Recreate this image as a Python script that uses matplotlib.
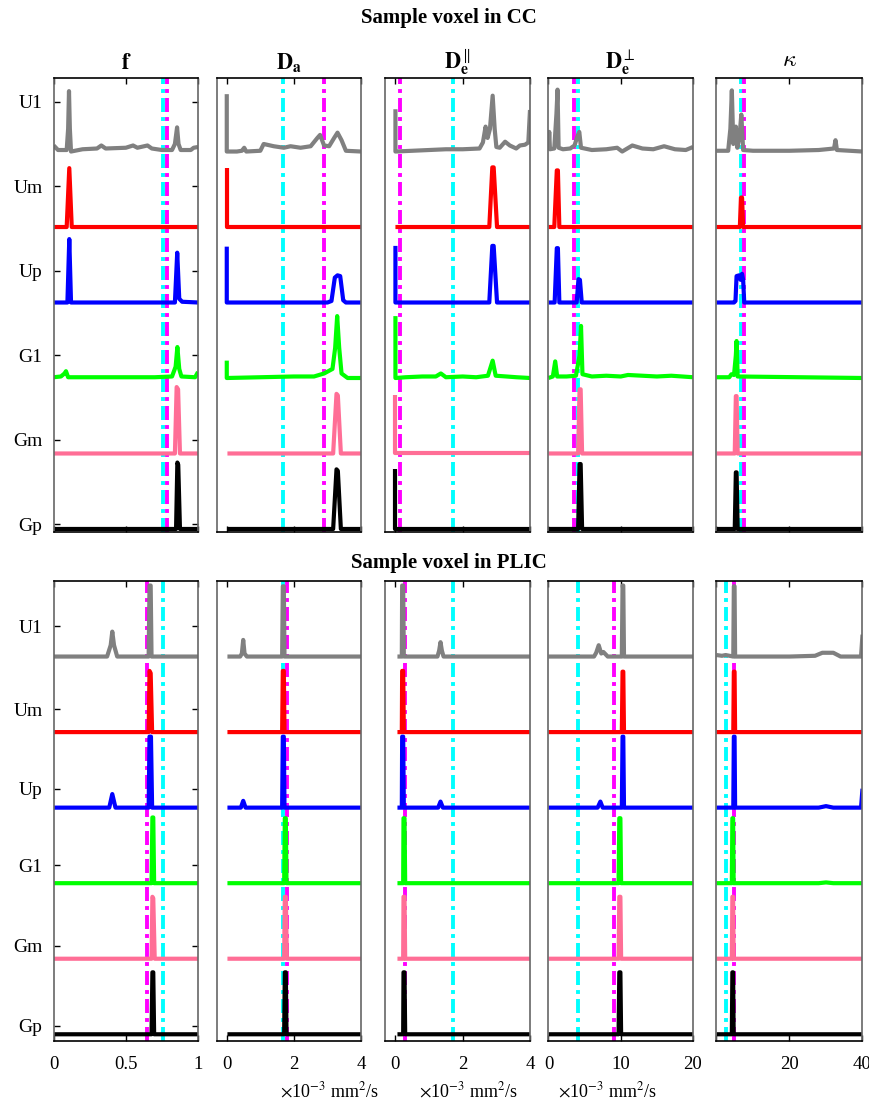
import matplotlib
matplotlib.use('Agg')
import matplotlib.pyplot as plt

plt.rcParams['font.family'] = 'serif'
plt.rcParams['font.serif'] = ['Liberation Serif', 'DejaVu Serif']
plt.rcParams['mathtext.fontset'] = 'stix'

rows = ['U1', 'Um', 'Up', 'G1', 'Gm', 'Gp']
colors = ['#808080', '#ff0000', '#0000ff', '#00ff00', '#ff6e96', '#000000']
col_titles = [r'$\mathbf{f}$', r'$\mathbf{D}_{\mathbf{a}}$', r'$\mathbf{D}_{\mathbf{e}}^{\parallel}$',
              r'$\mathbf{D}_{\mathbf{e}}^{\perp}$', r'$\kappa$']

# traces, (x, height) per row: U1, Um, Up, G1, Gm, Gp
cc_f = [
    [(0,0.08),(0.03,0.02),(0.09,0.02),(0.1,0.3),(0.106,0.8),(0.112,0.3),(0.12,0.0),(0.2,0.03),(0.3,0.04),(0.33,0.08),(0.36,0.04),(0.5,0.05),(0.55,0.08),(0.58,0.05),(0.65,0.08),(0.68,0.04),(0.75,0.02),(0.82,0.02),(0.84,0.1),(0.855,0.32),(0.865,0.1),(0.88,0.02),(0.95,0.02),(0.97,0.05),(1.0,0.06)],
    [(0,0),(0.09,0),(0.108,0.78),(0.125,0),(1,0)],
    [(0,0),(0.095,0),(0.108,0.84),(0.12,0),(0.84,0),(0.856,0.66),(0.87,0.05),(0.89,0.01),(1,0)],
    [(0,0.01),(0.05,0.02),(0.075,0.06),(0.085,0.09),(0.1,0.01),(0.4,0.01),(0.7,0.01),(0.82,0.02),(0.845,0.15),(0.857,0.41),(0.87,0.12),(0.885,0.02),(0.98,0.01),(1,0.08)],
    [(0,0),(0.84,0),(0.852,0.88),(0.862,0.85),(0.875,0),(1,0)],
    [(0,0),(0.848,0),(0.857,0.88),(0.863,0.85),(0.875,0),(1,0)],
]
cc_da = [
    [(0,0.76),(0,0),(0.3,0.0),(0.45,0.01),(0.52,0.05),(0.58,0.0),(1.0,0.01),(1.1,0.1),(1.4,0.07),(1.7,0.05),(1.9,0.07),(2.2,0.05),(2.5,0.07),(2.7,0.18),(2.78,0.22),(2.9,0.08),(3.05,0.07),(3.2,0.18),(3.3,0.25),(3.42,0.15),(3.55,0.01),(4.0,0.0)],
    [(0,0.78),(0,0),(4,0)],
    [(0,0.74),(0,0),(3.0,0),(3.12,0.02),(3.22,0.33),(3.3,0.36),(3.38,0.35),(3.47,0.03),(3.55,0),(4,0)],
    [(0,0.23),(0,0),(1.0,0.01),(2.0,0.02),(2.6,0.02),(2.9,0.06),(3.15,0.12),(3.23,0.4),(3.29,0.82),(3.35,0.4),(3.42,0.06),(3.6,0.0),(4,0)],
    [(0.02,0),(3.17,0),(3.27,0.79),(3.31,0.77),(3.4,0),(4,0)],
    [(0.02,0),(3.17,0),(3.27,0.79),(3.31,0.77),(3.4,0),(4,0)],
]
cc_depar = [
    [(0,0.56),(0,0.0),(0.5,0.01),(1.0,0.02),(1.5,0.03),(2.0,0.03),(2.5,0.04),(2.6,0.12),(2.68,0.33),(2.74,0.18),(2.81,0.3),(2.89,0.74),(2.95,0.3),(3.0,0.06),(3.1,0.05),(3.26,0.13),(3.4,0.08),(3.59,0.04),(3.7,0.08),(3.85,0.09),(3.95,0.12),(4.0,0.55)],
    [(0,0),(2.79,0),(2.88,0.79),(2.92,0.79),(3.02,0),(4,0)],
    [(0,0.75),(0,0),(2.79,0),(2.88,0.75),(2.92,0.75),(3.02,0),(4,0)],
    [(0,0.82),(0,0.0),(0.3,0.01),(0.8,0.02),(1.2,0.02),(1.35,0.06),(1.5,0.01),(2.0,0.02),(2.4,0.01),(2.75,0.03),(2.89,0.23),(2.98,0.03),(3.3,0.02),(3.6,0.01),(4,0.0)],
    [(0,0.78),(0,0),(4,0)],
    [(0,0.79),(0,0),(4,0)],
]
cc_deperp = [
    [(0,0.02),(0.1,0.26),(0.2,0.03),(0.8,0.04),(1.1,0.5),(1.25,0.82),(1.4,0.05),(2.0,0.03),(3.0,0.04),(3.6,0.08),(4.0,0.2),(4.26,0.26),(4.5,0.05),(6.0,0.02),(8.0,0.03),(9.5,0.05),(10.2,0.0),(11.6,0.08),(13.0,0.04),(14.5,0.03),(16.0,0.07),(17.5,0.03),(19.0,0.02),(20,0.06)],
    [(0,0),(0.8,0),(1.15,0.75),(1.3,0.75),(1.5,0),(20,0)],
    [(0,0),(0.85,0),(1.15,0.72),(1.3,0.72),(1.5,0),(3.9,0),(4.15,0.31),(4.35,0.3),(4.6,0),(20,0)],
    [(0,0.0),(0.6,0.02),(0.93,0.22),(1.2,0.02),(2.5,0.02),(3.8,0.03),(4.3,0.3),(4.5,0.69),(4.7,0.05),(6.0,0.02),(8,0.03),(10,0.02),(11,0.04),(13,0.03),(15,0.02),(17,0.03),(20,0.01)],
    [(0,0),(4.1,0),(4.3,0.85),(4.45,0.85),(4.65,0),(20,0)],
    [(0,0),(4.1,0),(4.3,0.86),(4.45,0.86),(4.65,0),(20,0)],
]
cc_kappa = [
    [(0,0.01),(3.2,0.01),(3.8,0.3),(4.2,0.81),(4.6,0.1),(5.0,0.2),(5.3,0.33),(5.7,0.05),(6.3,0.2),(6.8,0.49),(7.3,0.02),(10,0.01),(20,0.01),(28,0.02),(32.2,0.04),(32.6,0.15),(33,0.02),(40,0.0)],
    [(0,0),(6.4,0),(6.7,0.39),(7.0,0.39),(7.3,0),(40,0)],
    [(0,0),(4.8,0),(5.2,0.02),(5.5,0.35),(6.2,0.36),(6.6,0.3),(7.0,0.38),(7.3,0.3),(7.6,0),(40,0)],
    [(0,0.01),(3.5,0.01),(4.1,0.05),(4.8,0.04),(5.3,0.3),(5.5,0.49),(5.8,0.02),(40,0.0)],
    [(0,0),(5.0,0),(5.3,0.76),(5.5,0.76),(5.8,0),(40,0)],
    [(0,0),(5.0,0),(5.3,0.75),(5.5,0.75),(5.8,0),(40,0)],
]

plic_f = [
    [(0,0),(0.37,0),(0.395,0.15),(0.406,0.33),(0.418,0.15),(0.44,0),(0.658,0),(0.664,0.94),(0.672,0.94),(0.678,0),(1,0)],
    [(0,0),(0.658,0),(0.664,0.81),(0.672,0.78),(0.682,0),(1,0)],
    [(0,0),(0.385,0),(0.406,0.18),(0.428,0),(0.658,0),(0.664,0.94),(0.674,0.94),(0.682,0),(1,0)],
    [(0,0),(0.678,0),(0.684,0.87),(0.69,0.87),(0.696,0),(1,0)],
    [(0,0),(0.678,0),(0.684,0.82),(0.69,0.8),(0.7,0),(1,0)],
    [(0,0),(0.678,0),(0.684,0.82),(0.69,0.82),(0.696,0),(1,0)],
]
plic_da = [
    [(0.02,0),(0.4,0),(0.45,0.04),(0.49,0.22),(0.53,0.04),(0.6,0),(1.65,0),(1.67,0.93),(1.7,0.93),(1.72,0),(4,0)],
    [(0.02,0),(1.65,0),(1.67,0.81),(1.7,0.81),(1.72,0),(4,0)],
    [(0.02,0),(0.42,0),(0.49,0.09),(0.56,0),(1.65,0),(1.67,0.94),(1.7,0.94),(1.72,0),(4,0)],
    [(0.02,0),(1.71,0),(1.73,0.86),(1.76,0.86),(1.78,0),(4,0)],
    [(0.02,0),(1.71,0),(1.73,0.82),(1.76,0.82),(1.79,0),(4,0)],
    [(0.02,0),(1.71,0),(1.73,0.82),(1.76,0.82),(1.78,0),(4,0)],
]
plic_depar = [
    [(0.06,0),(0.19,0),(0.2,0.94),(0.23,0.94),(0.25,0),(1.25,0),(1.3,0.08),(1.34,0.19),(1.38,0.08),(1.43,0),(4,0)],
    [(0.06,0),(0.19,0),(0.2,0.81),(0.23,0.81),(0.25,0),(4,0)],
    [(0.06,0),(0.19,0),(0.2,0.94),(0.23,0.94),(0.25,0),(1.27,0),(1.34,0.08),(1.41,0),(4,0)],
    [(0.06,0),(0.23,0),(0.24,0.86),(0.27,0.86),(0.29,0),(4,0)],
    [(0.06,0),(0.23,0),(0.24,0.82),(0.27,0.82),(0.29,0),(4,0)],
    [(0.06,0),(0.23,0),(0.24,0.82),(0.27,0.82),(0.29,0),(4,0)],
]
plic_deperp = [
    [(0,0),(6.3,0.0),(6.6,0.05),(6.95,0.15),(7.3,0.04),(7.6,0.06),(8.2,0.0),(10.15,0),(10.25,0.94),(10.35,0.94),(10.45,0),(20,0)],
    [(0,0),(10.15,0),(10.25,0.8),(10.35,0.8),(10.45,0),(20,0)],
    [(0,0),(6.8,0),(7.18,0.08),(7.5,0),(10.15,0),(10.25,0.94),(10.35,0.94),(10.45,0),(20,0)],
    [(0,0),(9.7,0),(9.8,0.86),(9.95,0.86),(10.05,0),(20,0)],
    [(0,0),(9.7,0),(9.8,0.82),(9.95,0.82),(10.05,0),(20,0)],
    [(0,0),(9.7,0),(9.8,0.82),(9.95,0.82),(10.05,0),(20,0)],
]
plic_kappa = [
    [(0,0.02),(1.5,0.01),(2.5,0.02),(4.6,0),(4.75,0.93),(4.95,0.93),(5.1,0.0),(20,0),(27,0.01),(29,0.05),(32,0.05),(34,0.0),(39.6,0.0),(40,0.29)],
    [(0,0),(4.6,0),(4.75,0.8),(4.95,0.8),(5.1,0),(40,0)],
    [(0,0),(4.6,0),(4.75,0.94),(4.95,0.94),(5.1,0),(28,0),(30,0.02),(32,0),(39.6,0),(40,0.25)],
    [(0,0),(4.2,0),(4.35,0.86),(4.55,0.86),(4.7,0),(28,0),(30,0.01),(32,0),(40,0)],
    [(0,0),(4.2,0),(4.35,0.82),(4.55,0.82),(4.7,0),(40,0)],
    [(0,0),(4.2,0),(4.35,0.82),(4.55,0.82),(4.7,0),(40,0)],
]

# reference values (dash-dot lines) per column
cc_cyan = [0.76, 1.69, 1.7, 4.12, 6.8]
cc_magenta = [0.788, 2.9, 0.13, 3.47, 7.4]
plic_cyan = [0.76, 1.68, 1.72, 4.12, 2.48]
plic_magenta = [0.649, 1.78, 0.29, 9.03, 4.68]

xlims = [(0, 1), (-0.3, 4), (-0.31, 4), (0, 20), (0, 40)]
xticks = [[0, 0.5, 1], [0, 2, 4], [0, 2, 4], [0, 10, 20], [0, 20, 40]]
xticklabels = [['0', '0.5', '1'], ['0', '2', '4'], ['0', '2', '4'], ['0', '10', '20'], ['', '20', '40']]

W, H = 870, 1100
col_px = [(53.7, 198), (216.7, 361), (385, 530), (548.5, 693), (716.5, 862.5)]


def rect(l, t, r, b):
    return [l / W, 1 - b / H, (r - l) / W, (b - t) / H]


fig = plt.figure(figsize=(W / 100, H / 100), dpi=100)
dash = (0, (3.6, 1.3, 1.0, 1.3))


def draw_block(panels, cyan, magenta, top, bottom, ylim, yticks, titles, labels):
    for c, traces in enumerate(panels):
        ax = fig.add_axes(rect(col_px[c][0], top, col_px[c][1], bottom))
        ax.axvline(cyan[c], color='#00ffff', lw=2.8, ls=dash, zorder=1)
        ax.axvline(magenta[c], color='#ff00ff', lw=2.8, ls=dash, zorder=1)
        for k, tr in enumerate(traces):
            xs = [p[0] for p in tr]
            ys = [p[1] + (5 - k) for p in tr]
            ax.plot(xs, ys, color=colors[k], lw=3.0, solid_joinstyle='round',
                    solid_capstyle='butt', zorder=2)
        ax.set_xlim(*xlims[c])
        ax.set_ylim(*ylim)
        ax.set_xticks(xticks[c])
        if labels:
            ax.set_xticklabels(xticklabels[c], fontsize=13.5)
        else:
            ax.set_xticklabels([])
        ax.tick_params(axis='x', direction='in', top=True, bottom=True, length=4, width=1, pad=11)
        if c == 0:
            ax.set_yticks(yticks)
            ax.set_yticklabels(rows, fontsize=14)
            ax.tick_params(axis='y', direction='in', left=True, right=True, length=4, width=1, pad=8)
        else:
            ax.set_yticks([])
        for s in ['left', 'right']:
            ax.spines[s].set_color('0.4')
            ax.spines[s].set_linewidth(1.2)
        for s in ['top', 'bottom']:
            ax.spines[s].set_color('black')
            ax.spines[s].set_linewidth(1.2)
        if titles:
            if c == 4:
                ax.set_title(col_titles[c], fontsize=17, pad=9, math_fontfamily='cm')
            else:
                ax.set_title(col_titles[c], fontsize=16, pad=7)


draw_block([cc_f, cc_da, cc_depar, cc_deperp, cc_kappa], cc_cyan, cc_magenta,
           78.3, 532.3, (-0.044, 5.97), [5.66, 4.54, 3.42, 2.30, 1.18, 0.06], True, False)
draw_block([plic_f, plic_da, plic_depar, plic_deperp, plic_kappa], plic_cyan, plic_magenta,
           581, 1040.7, (-0.085, 6.0), [5.40, 4.30, 3.25, 2.24, 1.17, 0.11], False, True)

fig.text(449 / W, 1 - 18 / H, 'Sample voxel in CC', ha='center', va='center', fontsize=15, fontweight='bold')
fig.text(449 / W, 1 - 563 / H, 'Sample voxel in PLIC', ha='center', va='center', fontsize=15, fontweight='bold')

unit = r'$\times$10$^{-3}$ mm$^2$/s'
for xc in [329, 468, 607.5]:
    fig.text(xc / W, 1 - 1091 / H, unit, ha='center', va='center', fontsize=13)

fig.savefig('out.png', dpi=100)
